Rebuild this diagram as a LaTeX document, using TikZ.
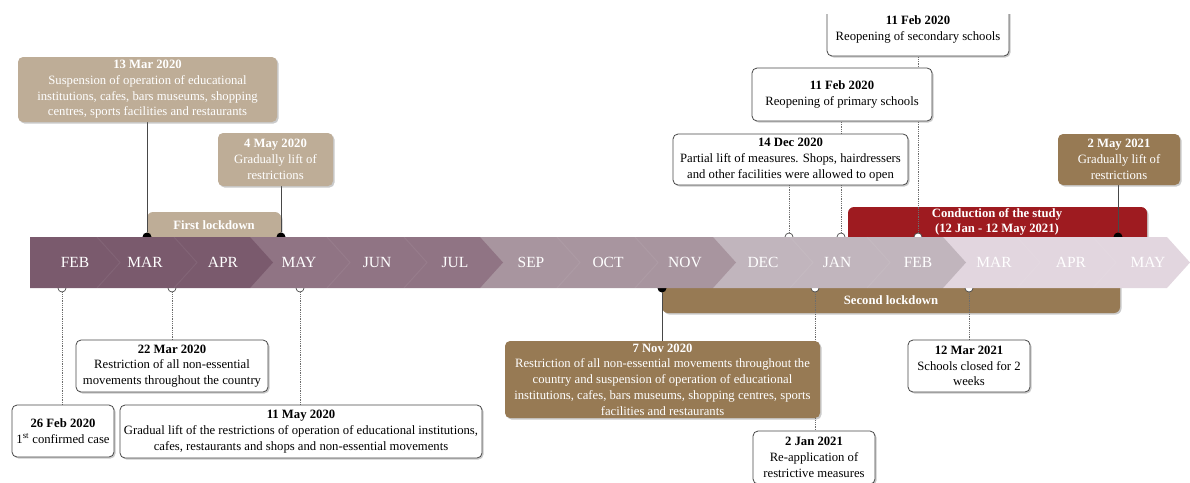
\documentclass[tikz,border=0pt]{standalone}
\usepackage{fontspec}
\setmainfont{Liberation Serif}
\usepackage{xcolor}
\definecolor{plumA}{RGB}{122,90,109}
\definecolor{plumB}{RGB}{144,116,132}
\definecolor{plumC}{RGB}{168,149,159}
\definecolor{plumD}{RGB}{193,181,189}
\definecolor{plumE}{RGB}{226,214,223}
\definecolor{sand}{RGB}{190,173,151}
\definecolor{umber}{RGB}{151,122,84}
\definecolor{crimson}{RGB}{158,27,32}
\definecolor{coal}{RGB}{72,72,72}
\usepackage{tikz}
\usetikzlibrary{positioning,shadows}
\pgfdeclarelayer{bars}
\pgfdeclarelayer{links}
\pgfsetlayers{bars,links,main}
\tikzset{
  softshadow/.style={drop shadow={shadow xshift=1.5pt, shadow yshift=-1.5pt,
                     opacity=0.35, fill=black!60}},
  evbox/.style={rounded corners=5pt, align=center, inner xsep=2pt, inner ysep=1pt,
                font=\fontsize{12.7}{15.7}\selectfont, softshadow},
  plainbox/.style={evbox, draw=coal, line width=0.8pt, fill=white, text=black},
  sandbox/.style={evbox, fill=sand, text=white},
  umberbox/.style={evbox, fill=umber, text=white},
  phasebar/.style={rounded corners=6pt, softshadow},
  phaselabel/.style={text=white, align=center,
                     font=\bfseries\fontsize{12.7}{15}\selectfont},
  monthlabel/.style={text=white, font=\fontsize{15.5}{16}\selectfont},
  fdot/.style={circle, fill=black, inner sep=0pt, minimum size=9pt},
  odot/.style={circle, draw=coal, fill=white, line width=0.7pt,
               inner sep=0pt, minimum size=8pt},
  firm/.style={draw=coal, line width=0.8pt},
  faint/.style={draw=coal!80, line width=0.8pt, densely dotted},
}

\begin{document}
\begin{tikzpicture}[x=1pt,y=-1pt]
\useasboundingbox (0,0) rectangle (1190,482);
\clip (0,14) rectangle (1190,482);

% time line
\foreach \xa/\xb/\col in {943/1167/plumE,713/943/plumD,480/713/plumC,250/480/plumB,30/250/plumA}
  \fill[\col] (\xa,237) -- (\xb,237) -- (\xb+23,262.5) -- (\xb,288) -- (\xa,288) -- cycle;
\foreach \xm in {97,174,327,404,557,635,790,867,1017,1093}
  \draw[white, opacity=0.06, line width=1pt] (\xm,237) -- (\xm+23,262.5) -- (\xm,288);
\foreach \xm/\mon in {75/FEB,145/MAR,223/APR,299/MAY,377/JUN,455/JUL,531/SEP,608/OCT,
                      685/NOV,763/DEC,837/JAN,918/FEB,994/MAR,1071/APR,1148/MAY}
  \node[monthlabel] (m\xm) at (\xm,262.5) {\mon};

% phases
\begin{pgfonlayer}{bars}
\fill[sand, phasebar] (147,212) rectangle (281,250);
\fill[crimson, phasebar] (848,207) rectangle (1147,250);
\fill[umber, phasebar] (662,275) rectangle (1120,313);
\end{pgfonlayer}
\node[phaselabel] (lock1) at (214,225) {First lockdown};
\node[phaselabel] (study) at (997,222) {Conduction of the study\\(12 Jan - 12 May 2021)};
\node[phaselabel] (lock2) at (891,300) {Second lockdown};

% events above
\node[sandbox, minimum width=259pt, minimum height=65pt] (ev13mar) at (147.5,89.5)
  {\textbf{13 Mar 2020}\\Suspension of operation of educational\\institutions, cafes, bars museums, shopping\\centres, sports facilities and restaurants};
\node[sandbox, minimum width=115pt, minimum height=53pt] (ev4may) at (275.5,159.5)
  {\textbf{4 May 2020}\\Gradually lift of\\restrictions};
\node[plainbox, minimum width=235pt, minimum height=51pt] (ev14dec) at (790.5,159.5)
  {\textbf{14 Dec 2020}\\Partial lift of measures. Shops, hairdressers\\and other facilities were allowed to open};
\node[plainbox, minimum width=180pt, minimum height=53pt] (ev11febp) at (842,94.5)
  {\textbf{11 Feb 2020}\\Reopening of primary schools};
\node[plainbox, minimum width=182pt, minimum height=53pt] (ev11febs) at (918,29.5)
  {\textbf{11 Feb 2020}\\Reopening of secondary schools};
\node[umberbox, minimum width=122pt, minimum height=51pt] (ev2may) at (1119,159.5)
  {\textbf{2 May 2021}\\Gradually lift of\\restrictions};

% events below
\node[plainbox, minimum width=102pt, minimum height=52pt] (ev26feb) at (63,431)
  {\textbf{26 Feb 2020}\\1\textsuperscript{st} confirmed case};
\node[plainbox, minimum width=192pt, minimum height=52pt] (ev22mar) at (172,366)
  {\textbf{22 Mar 2020}\\Restriction of all non-essential\\movements throughout the country};
\node[plainbox, minimum width=362pt, minimum height=53pt] (ev11may) at (301,431.5)
  {\textbf{11 May 2020}\\Gradual lift of the restrictions of operation of educational institutions,\\cafes, restaurants and shops and non-essential movements};
\node[umberbox, minimum width=315pt, minimum height=77pt] (ev7nov) at (662.5,379.5)
  {\textbf{7 Nov 2020}\\Restriction of all non-essential movements throughout the\\country and suspension of operation of educational\\institutions, cafes, bars museums, shopping centres, sports\\facilities and restaurants};
\node[plainbox, minimum width=122pt, minimum height=53pt] (ev2jan) at (814,457.5)
  {\textbf{2 Jan 2021}\\Re-application of\\restrictive measures};
\node[plainbox, minimum width=122pt, minimum height=52pt] (ev12mar) at (969,366)
  {\textbf{12 Mar 2021}\\Schools closed for 2\\weeks};

% markers and leaders
\begin{pgfonlayer}{links}
\node[fdot] (d13mar) at (147,237) {};
\node[fdot] (d4may) at (281,237) {};
\node[odot] (d14dec) at (789,237) {};
\node[odot] (d11febp) at (841,237) {};
\node[odot] (d11febs) at (918,237) {};
\node[fdot] (d2may) at (1118,237) {};
\node[odot] (d26feb) at (62,288) {};
\node[odot] (d22mar) at (172,288) {};
\node[odot] (d11may) at (300,288) {};
\node[fdot] (d7nov) at (662,288) {};
\node[odot] (d2jan) at (815,288) {};
\node[odot] (d12mar) at (969,288) {};
\draw[firm] (d13mar) -- (d13mar |- ev13mar.south);
\draw[firm] (d4may) -- (d4may |- ev4may.south);
\draw[faint] (d14dec) -- (d14dec |- ev14dec.south);
\draw[faint] (d11febp) -- (d11febp |- ev11febp.south);
\draw[faint] (d11febs) -- (d11febs |- ev11febs.south);
\draw[firm] (d2may) -- (d2may |- ev2may.south);
\draw[faint] (d26feb) -- (d26feb |- ev26feb.north);
\draw[faint] (d22mar) -- (d22mar |- ev22mar.north);
\draw[faint] (d11may) -- (d11may |- ev11may.north);
\draw[firm] (d7nov) -- (d7nov |- ev7nov.north);
\draw[faint] (d2jan) -- (d2jan |- ev2jan.north);
\draw[faint] (d12mar) -- (d12mar |- ev12mar.north);
\end{pgfonlayer}
\end{tikzpicture}
\end{document}
